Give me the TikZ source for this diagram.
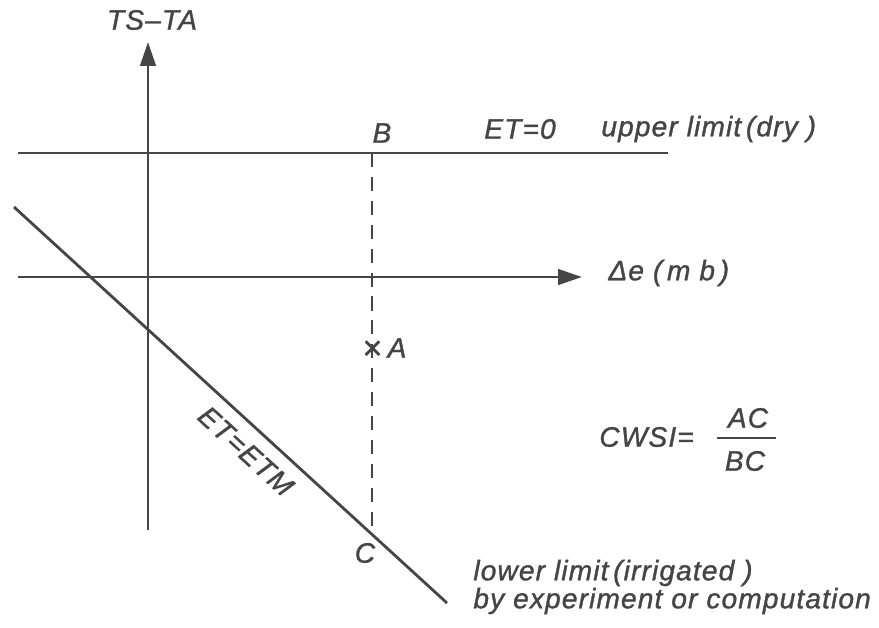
\documentclass[tikz,border=0pt]{standalone}
\usepackage{fontspec}
\setmainfont{Liberation Sans}[ItalicFeatures={FakeBold=1.2, LetterSpace=4}]
\usetikzlibrary{arrows.meta}
\definecolor{ink}{HTML}{454545}

\begin{document}
\begin{tikzpicture}[x=0.025cm, y=-0.025cm, font=\fontsize{20}{24}\selectfont\itshape,
    line width=2pt, draw=ink, text=ink,
    axis/.style={-{Triangle[length=17pt,width=11pt]}},
    lab/.style={inner sep=0pt}]
  \useasboundingbox (0,0) rectangle (879,627);

  % axes
  \coordinate (ybot) at (148,530);
  \coordinate (ytop) at (148,42);
  \coordinate (xl) at (18,277);
  \coordinate (xr) at (582,277);
  \draw[axis] (ybot) -- (ytop);
  \draw[axis] (xl) -- (xr);
  \node[lab] (tsta) at (152,20) {TS--TA};
  \node[lab, anchor=west] (de) at (607,273) {Δe\ (\,m\ b\,)};

  % upper limit
  \coordinate (ul) at (18,153);
  \coordinate (ur) at (668,153);
  \draw (ul) -- (ur);
  \node[lab] (b) at (382,133) {B};
  \node[lab] (et0) at (520,129) {ET=0};
  \node[lab, anchor=west] (dry) at (600,129) {upper limit\,(dry\ )};

  % lower limit
  \coordinate (ll) at (14,207);
  \coordinate (lr) at (447,603);
  \draw (ll) -- (lr);
  \node[lab, rotate=-42.4] (etm) at (246,451) {ET=ETM};

  % dashed BC
  \coordinate (bb) at (372,153);
  \coordinate (cc) at (372,527);
  \draw[dash pattern=on 10 off 7, line width=1.7pt] (bb) -- (cc);
  \node[lab, font=\fontsize{24}{24}\selectfont\itshape] (cross) at (372,350) {×};
  \node[lab] (a) at (397,348) {A};
  \node[lab] (c) at (365,553) {C};

  \node[lab, anchor=west] (irr) at (472,573) {lower limit\,(irrigated\ )};
  \node[lab, anchor=west] (exp) at (472,601) {by experiment or computation};

  % index
  \node[lab, anchor=west] (cwsi) at (598,437) {CWSI=};
  \coordinate (fl) at (717,438);
  \coordinate (fr) at (776,438);
  \draw (fl) -- (fr);
  \node[lab] (ac) at (748,418) {AC};
  \node[lab] (bc) at (745,461) {BC};
\end{tikzpicture}
\end{document}
